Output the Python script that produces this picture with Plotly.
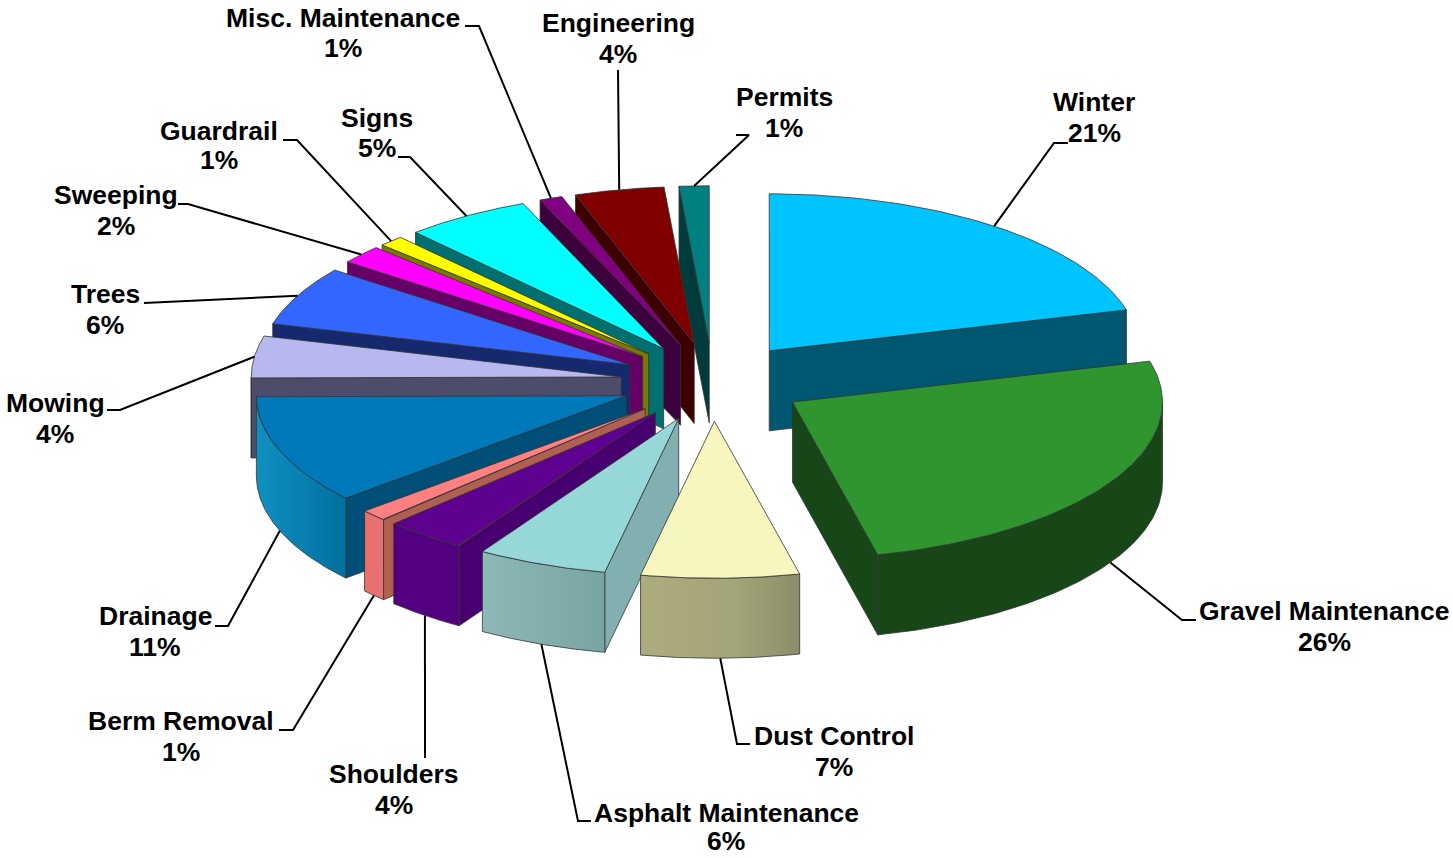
import numpy as np
import plotly.graph_objects as go

categories = ["Winter", "Gravel Maintenance", "Dust Control", "Asphalt Maintenance", "Shoulders",
              "Berm Removal", "Drainage", "Mowing", "Trees", "Sweeping", "Guardrail", "Signs",
              "Misc. Maintenance", "Engineering", "Permits"]
values = [20.8, 25.5, 6.9, 5.7, 3.6, 1.2, 11.2, 4.3, 6.1, 1.9, 1.1, 5.5, 1.0, 3.9, 1.3]
percent_labels = ["21%", "26%", "7%", "6%", "4%", "1%", "11%", "4%", "6%", "2%", "1%", "5%", "1%", "4%", "1%"]

top_colors = ["#00C4FF", "#2F962F", "#F6F6BE", "#96D8D8", "#5E0090", "#FF8080", "#0079BB", "#B8B8F0",
              "#3366FF", "#FF00FF", "#FFFF00", "#00FFFF", "#800080", "#800000", "#008080"]
wall_colors = ["#005770", "#174717", "#8E8E6A", "#82AFAF", "#480070", "#B06050", "#004F78", "#4D4D6B",
               "#16296E", "#660066", "#7A7A00", "#006F6F", "#3C003C", "#3C0000", "#003C3C"]
rim_colors = ["#005770", "#174717", "#A8A878", "#7FAAAA", "#520080", "#E87070", "#0080B0", "#4D4D6B",
              "#16296E", "#660066", "#7A7A00", "#006F6F", "#3C003C", "#3C0000", "#003C3C"]

# label placement: text centre x, first-line y, second-line y, elbow and end of the leader
label_x = [1094, 1324, 834, 726, 394, 181, 155, 55, 105, 116, 219, 377, 343, 618, 784]
line1_y = [102, 611, 736, 813, 774, 721, 616, 403, 294, 195, 131, 118, 18, 23, 97]
line2_y = [133, 642, 767, 841, 805, 752, 647, 434, 325, 226, 160, 148, 48, 54, 128]
elbows = [(1054, 143), (1182, 620), (737, 744), (578, 821), (425, 758), (293, 730), (228, 626),
          (120, 410), (158, 303), (188, 204), (297, 140), (410, 157), (479, 26), (618, 70), (749, 135)]
ends = [(1068, 143), (1196, 620), (750, 744), (591, 821), (425, 758), (279, 730), (215, 626),
        (107, 410), (144, 303), (178, 204), (283, 140), (398, 157), (465, 26), (618, 70), (736, 135)]

CX, CY, RX, RY, DEPTH, PULL_X, PULL_Y = 713, 382, 370, 157, 80, 0.25, 0.25
EDGE = "#333333"
FONT = "Liberation Sans, Arial, sans-serif"

v = np.array(values, dtype=float)
cum = np.concatenate([[0], np.cumsum(v)]) / v.sum() * 2 * np.pi
mids = (cum[:-1] + cum[1:]) / 2
apex_x = CX + PULL_X * RX * np.sin(mids)
apex_y = CY - PULL_Y * RY * np.cos(mids)


def rim(i, t):
    return apex_x[i] + RX * np.sin(t), apex_y[i] - RY * np.cos(t)


fig = go.Figure()


def poly(xs, ys, fill, gradient=None, name=None):
    kw = dict(fillgradient=gradient) if gradient else dict(fillcolor=fill)
    fig.add_trace(go.Scatter(x=list(xs), y=list(ys), mode="lines", fill="toself",
                             line=dict(color=EDGE, width=0.8), hoverinfo="skip",
                             showlegend=False, name=name, **kw))


def wall(i, t):
    x, y = rim(i, t)
    xs = [apex_x[i], x, x, apex_x[i], apex_x[i]]
    ys = [apex_y[i], y, y + DEPTH, apex_y[i] + DEPTH, apex_y[i]]
    area = sum(xs[k] * ys[k + 1] - xs[k + 1] * ys[k] for k in range(4))
    return xs, ys, area


gradients = {
    2: dict(type="horizontal", colorscale=[[0, "#ACAC7C"], [0.6, "#A4A47A"], [1, "#8C8C68"]]),
    3: dict(type="horizontal", colorscale=[[0, "#8CB8B8"], [1, "#78A4A4"]]),
    6: dict(type="horizontal", colorscale=[[0, "#1090C0"], [1, "#0070A0"]]),
}

# paint from the back of the pie to the front
order = [14, 13, 12, 11, 10, 9, 8, 7, 0, 6, 5, 4, 3, 2, 1]
for i in order:
    t1, t2 = cum[i], cum[i + 1]
    # radial walls: only the ones facing the viewer
    for t, sign in ((t1, 1), (t2, -1)):
        xs, ys, area = wall(i, t)
        if area * sign < 0:
            poly(xs, ys, wall_colors[i])
    # outer curved side: the part on the front half
    a, b = max(t1, np.pi / 2), min(t2, 3 * np.pi / 2)
    if b > a:
        ts = np.linspace(a, b, 80)
        rx, ry = rim(i, ts)
        xs = np.concatenate([rx, rx[::-1], rx[:1]])
        ys = np.concatenate([ry, ry[::-1] + DEPTH, ry[:1]])
        poly(xs, ys, rim_colors[i], gradients.get(i))
    # top face
    ts = np.linspace(t1, t2, 80)
    rx, ry = rim(i, ts)
    poly(np.concatenate([[apex_x[i]], rx, [apex_x[i]]]),
         np.concatenate([[apex_y[i]], ry, [apex_y[i]]]), top_colors[i], name=categories[i])

# leader lines and labels
for i, name in enumerate(categories):
    x0, y0 = rim(i, mids[i])
    if np.cos(mids[i]) < 0:
        y0 += DEPTH
    fig.add_trace(go.Scatter(x=[x0, elbows[i][0], ends[i][0]], y=[y0, elbows[i][1], ends[i][1]],
                             mode="lines", line=dict(color="black", width=2),
                             hoverinfo="skip", showlegend=False))
    for text, y in ((name, line1_y[i]), (percent_labels[i], line2_y[i])):
        fig.add_annotation(x=label_x[i], y=y, xref="x", yref="y",
                           text=f"<b>{text}</b>", showarrow=False,
                           font=dict(family=FONT, size=26.5, color="black"), align="center",
                           xanchor="center", yanchor="middle")

fig.update_layout(
    width=1453, height=858, margin=dict(l=0, r=0, t=0, b=0),
    paper_bgcolor="white", plot_bgcolor="white", showlegend=False,
    xaxis=dict(range=[0, 1453], visible=False, fixedrange=True),
    yaxis=dict(range=[858, 0], visible=False, fixedrange=True),
)
fig.write_html("out.html", config=dict(displayModeBar=False),
               post_script="document.body.style.margin='0';document.body.style.overflow='hidden';")
